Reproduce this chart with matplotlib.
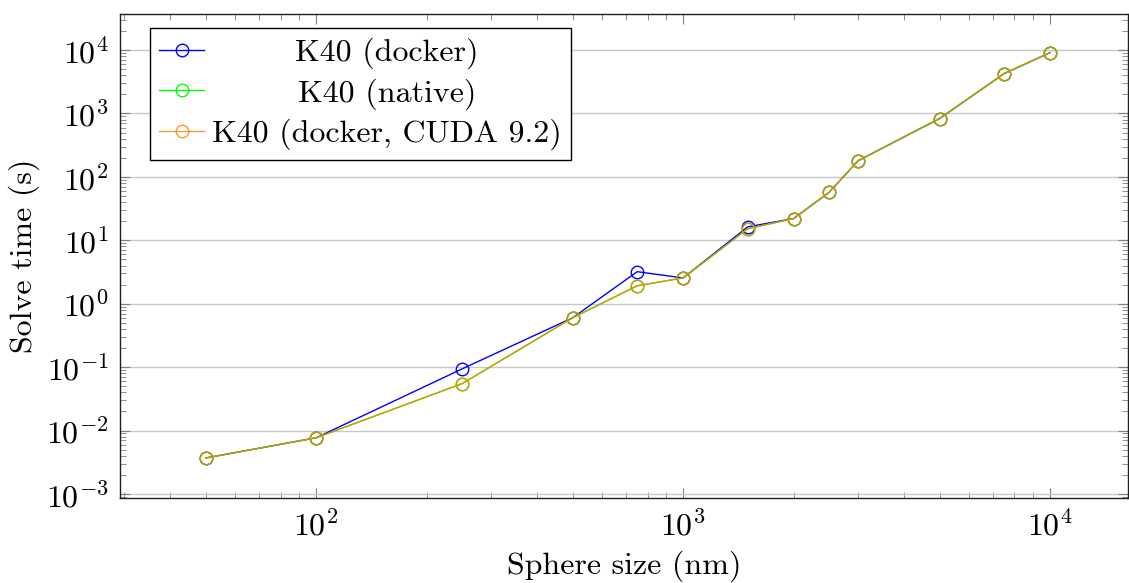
import matplotlib
matplotlib.use("Agg")
import matplotlib.pyplot as plt
from matplotlib.ticker import LogLocator, NullFormatter

plt.rcParams['font.family'] = ['cmr10', 'DejaVu Serif']
plt.rcParams['mathtext.fontset'] = 'cm'
plt.rcParams['axes.formatter.use_mathtext'] = True

# --- datos ---
sphere_size = [50, 100, 250, 500, 750, 1000, 1500, 2000, 2500, 3000, 5000, 7500, 10000]
t_docker = [0.0037, 0.0077, 0.094, 0.60, 3.2, 2.55, 16.3, 22, 57, 180, 830, 4250, 9100]
t_native = [0.0037, 0.0077, 0.055, 0.60, 1.92, 2.55, 15.2, 22, 57, 180, 830, 4250, 9100]
t_cuda92 = [0.0037, 0.0077, 0.055, 0.60, 1.92, 2.55, 15.2, 22, 57, 180, 830, 4250, 9100]
labels = ['K40 (docker)', 'K40 (native)', 'K40 (docker, CUDA 9.2)']

fig = plt.figure(figsize=(11.29, 5.83), dpi=100)
ax = fig.add_axes([0.1063, 0.1458, 0.8927, 0.8302])

style = dict(marker='o', markersize=9, markerfacecolor='none', linewidth=1.0, markeredgewidth=1.0)
ax.plot(sphere_size, t_docker, color='#0000ff', label=labels[0], **style)
ax.plot(sphere_size, t_native, color='#00ff00', label=labels[1], **style)
ax.plot(sphere_size, t_cuda92, color='#ff8000', alpha=0.8, label=labels[2], **style)

ax.set_xscale('log')
ax.set_yscale('log')
ax.set_xlim(29.2, 16300)
ax.set_ylim(10**-3.063, 10**4.568)

ax.yaxis.set_major_locator(LogLocator(base=10, numticks=20))
ax.yaxis.set_minor_locator(LogLocator(base=10, subs=range(2, 10), numticks=20))
ax.yaxis.set_minor_formatter(NullFormatter())
ax.xaxis.set_minor_formatter(NullFormatter())

ax.grid(True, which='major', axis='y', color='#c8c8c8', linewidth=1.0)
ax.set_axisbelow(True)

ax.tick_params(which='both', direction='in', top=True, right=True, color='#808080', labelsize=23)
ax.tick_params(which='major', length=7, width=0.8, pad=8)
ax.tick_params(which='minor', length=4, width=0.6)
for s in ax.spines.values():
    s.set_linewidth(1.0)
    s.set_color('#202020')

ax.set_xlabel('Sphere size (nm)', fontsize=23, labelpad=7)
ax.set_ylabel('Solve time (s)', fontsize=23, labelpad=4)

leg = ax.legend(loc='upper left', bbox_to_anchor=(0.0295, 0.971), fontsize=23,
                fancybox=False, framealpha=1, edgecolor='black', handlelength=1.4,
                handletextpad=0.25, borderpad=0.3, labelspacing=0.28, borderaxespad=0)
leg.get_frame().set_linewidth(1.0)

# centrar textos de la leyenda como en pgfplots
renderer = fig.canvas.get_renderer()
widths = [t.get_window_extent(renderer).width for t in leg.get_texts()]
shift = max(widths)
for t, w in zip(leg.get_texts(), widths):
    t.set_position(((shift - w) / 2, 0))

fig.savefig('out.png', dpi=100)
